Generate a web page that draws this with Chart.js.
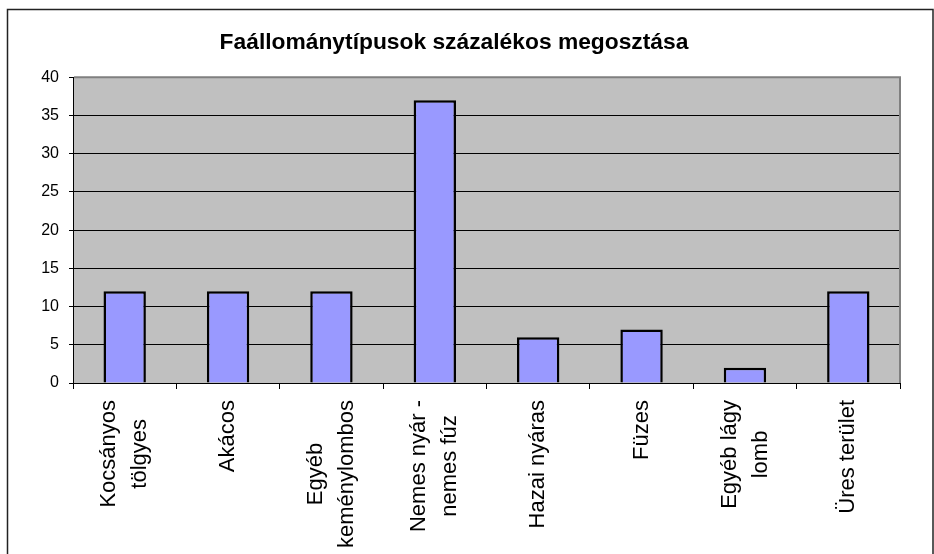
<!DOCTYPE html>
<html>
<head>
<meta charset="utf-8">
<script src="https://cdn.jsdelivr.net/npm/chart.js@4/dist/chart.umd.min.js"></script>
<style>
  body { margin: 0; background: #fff; }
  canvas { display: block; }
</style>
</head>
<body>
<canvas id="chart" width="934" height="554"></canvas>
<script>
// adatok
var categories = [
  ["Kocsányos", "tölgyes"],
  ["Akácos"],
  ["Egyéb", "keménylombos"],
  ["Nemes nyár -", "nemes fúz"],
  ["Hazai nyáras"],
  ["Füzes"],
  ["Egyéb lágy", "lomb"],
  ["Üres terület"]
];
var values = [12, 12, 12, 37, 6, 7, 2, 12];
var yMin = 0, yMax = 40, yStep = 5;

var title = "Faállománytípusok százalékos megosztása";

// szürke rajzterület + keret
var plotArea = {
  id: 'plotArea',
  beforeDraw: function(chart) {
    var ctx = chart.ctx, a = chart.chartArea;
    ctx.save();
    ctx.fillStyle = '#ffffff';
    ctx.fillRect(0, 0, chart.width, chart.height);
    ctx.fillStyle = '#c0c0c0';
    ctx.fillRect(a.left, a.top, a.right - a.left, a.bottom - a.top);
    ctx.restore();
  },
  beforeDatasetsDraw: function(chart) {
    var ctx = chart.ctx, a = chart.chartArea;
    ctx.save();
    ctx.strokeStyle = '#808080';
    ctx.lineWidth = 2;
    ctx.beginPath();
    ctx.moveTo(a.left + 1, a.top);
    ctx.lineTo(a.right, a.top);
    ctx.lineTo(a.right, a.bottom);
    ctx.stroke();
    ctx.restore();
  },
  afterDraw: function(chart) {
    var ctx = chart.ctx;
    var xs = chart.scales.x;
    ctx.save();
    // x tengely feliratai, forgatva, középre igazítva
    ctx.font = '22px "Liberation Sans", Arial, sans-serif';
    ctx.fillStyle = '#000';
    ctx.textAlign = 'center';
    ctx.textBaseline = 'middle';
    for (var i = 0; i < categories.length; i++) {
      var lines = categories[i];
      var px = xs.getPixelForTick(i);
      var w = 0;
      for (var j = 0; j < lines.length; j++) {
        w = Math.max(w, ctx.measureText(lines[j]).width);
      }
      ctx.save();
      ctx.translate(px, xs.top + 17 + w / 2);
      ctx.rotate(-Math.PI / 2);
      for (var j = 0; j < lines.length; j++) {
        ctx.fillText(lines[j], 0, (j - (lines.length - 1) / 2) * 31);
      }
      ctx.restore();
    }
    // külső keret
    ctx.strokeStyle = '#222';
    ctx.lineWidth = 1.5;
    ctx.strokeRect(7.5, 9.5, 925.5, 580);
    ctx.restore();
  }
};

new Chart(document.getElementById("chart"), {
    type: 'bar',
    data: {
      labels: categories,
      datasets: [
        {
          label: "",
          backgroundColor: "#9999ff",
          borderColor: "#000000",
          borderWidth: 2.5,
          barPercentage: 0.41,
          categoryPercentage: 1.0,
          data: values
        }
      ]
    },
    options: {
      responsive: false,
      animation: false,
      layout: { padding: { left: 8, right: 34, top: 10, bottom: 0 } },
      plugins: {
        legend: { display: false },
        tooltip: { enabled: false },
        title: {
          display: true,
          text: title,
          color: '#000',
          font: { family: '"Liberation Sans", Arial, sans-serif', size: 22.8, weight: 'bold' },
          padding: { top: 19, bottom: 21 }
        }
      },
      scales: {
        x: {
          offset: true,
          grid: { offset: true, drawOnChartArea: false, drawTicks: true, tickLength: 6, color: '#000' },
          border: { color: '#000', width: 1 },
          ticks: { display: false },
          afterFit: function(s) { s.height = 171; }
        },
        y: {
          min: yMin,
          max: yMax,
          ticks: {
            stepSize: yStep,
            color: '#000',
            padding: 10,
            font: { family: '"Liberation Sans", Arial, sans-serif', size: 16 }
          },
          grid: { color: '#000', tickLength: 4, lineWidth: 1 },
          border: { color: '#000', width: 1 },
          afterFit: function(s) { s.width = 65; }
        }
      }
    },
    plugins: [plotArea]
});
</script>
</body>
</html>
